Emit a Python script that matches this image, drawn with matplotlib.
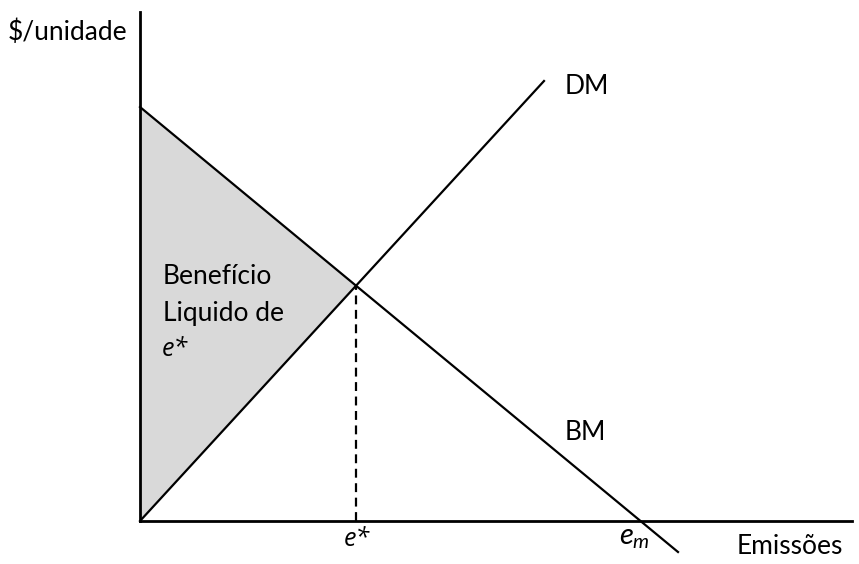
import matplotlib
matplotlib.use('Agg')
import matplotlib.pyplot as plt

plt.rcParams['font.family'] = ['Lato', 'DejaVu Sans']
plt.rcParams['mathtext.fontset'] = 'custom'
plt.rcParams['mathtext.rm'] = 'Lato'
plt.rcParams['mathtext.it'] = 'Lato:italic'

# curves in the emissions / $-per-unit plane (origin at the axes corner)
bm_e = [0, 538]
bm_v = [414, -31]
dm_e = [0, 404]
dm_v = [0, 440]
x_axis_end = 712
y_axis_top = 509

# intersection of BM and DM -> e*
bm_slope = (bm_v[1] - bm_v[0]) / (bm_e[1] - bm_e[0])
dm_slope = (dm_v[1] - dm_v[0]) / (dm_e[1] - dm_e[0])
e_star = bm_v[0] / (dm_slope - bm_slope)
v_star = dm_slope * e_star
e_m = -bm_v[0] / bm_slope

fig = plt.figure(figsize=(8.59, 5.64), dpi=100, facecolor='white')
ax = fig.add_axes([0, 0, 1, 1])
ax.set_xlim(-140, 719)
ax.set_ylim(-43, 521)
ax.axis('off')

lw = 1.6
ax.fill([0, e_star, 0], [bm_v[0], v_star, 0], color='#d9d9d9', zorder=1, lw=0)
ax.plot([0, x_axis_end], [0, 0], color='black', lw=2, zorder=3)
ax.plot([0, 0], [0, y_axis_top], color='black', lw=2, zorder=3)
ax.plot(bm_e, bm_v, color='black', lw=lw, zorder=2)
ax.plot(dm_e, dm_v, color='black', lw=lw, zorder=2)
ax.plot([e_star, e_star], [0, v_star], color='black', lw=lw,
        linestyle=(0, (4, 2.5)), zorder=2)

fs = 19
star_font = ['Open Sans', 'DejaVu Sans']
ax.text(-132, 489, '$/unidade', fontsize=fs, va='center', ha='left')
ax.text(425, 434, 'DM', fontsize=fs, va='center', ha='left')
ax.text(425, 89, 'BM', fontsize=fs, va='center', ha='left')
ax.text(597, -25, 'Emissões', fontsize=fs, va='center', ha='left')
ax.text(e_star + 1, -18, 'e*', fontsize=18, va='center', ha='center',
        style='italic', family=star_font)
ax.text(e_m - 6, -17, '$e_m$', fontsize=21, va='center', ha='center')

ax.text(23, 244, 'Benefício', fontsize=fs, va='center', ha='left')
ax.text(23, 207, 'Liquido de', fontsize=fs, va='center', ha='left')
ax.text(22, 171, 'e*', fontsize=18, va='center', ha='left',
        style='italic', family=star_font)

plt.savefig('out.png', dpi=100, facecolor='white')
plt.close(fig)
